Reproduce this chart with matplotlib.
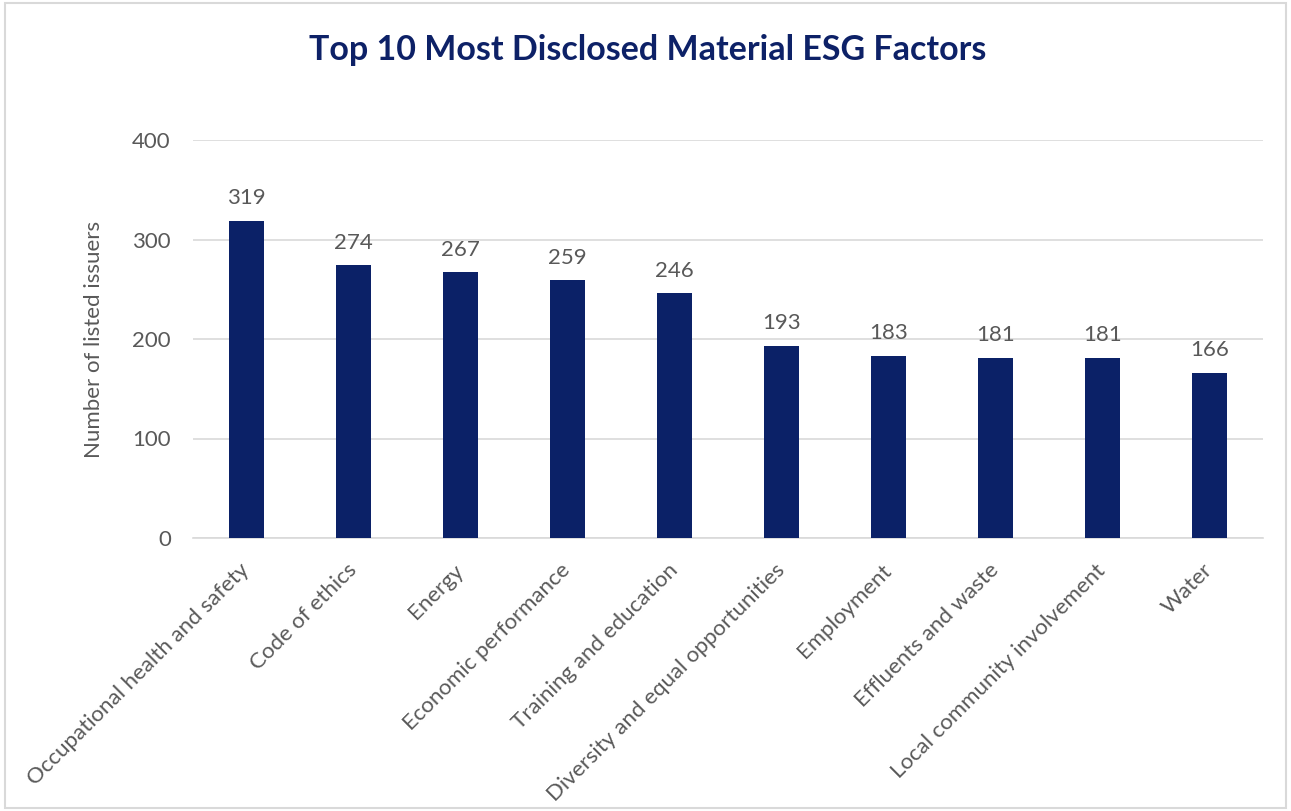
import matplotlib
matplotlib.use("Agg")
import matplotlib.pyplot as plt
from matplotlib.patches import Rectangle

categories = ["Occupational health and safety", "Code of ethics", "Energy",
              "Economic performance", "Training and education",
              "Diversity and equal opportunities", "Employment",
              "Effluents and waste", "Local community involvement", "Water"]
values = [319, 274, 267, 259, 246, 193, 183, 181, 181, 166]
yticks = [0, 100, 200, 300, 400]

plt.rcParams['font.family'] = ['Lato', 'DejaVu Sans']
txt = '#595959'
bar_color = '#0B2167'

fig = plt.figure(figsize=(12.91, 8.11), dpi=100)
ax = fig.add_axes([193/1291, 1-538/811, (1263-193)/1291, (538-140)/811])

x = list(range(len(categories)))
bars = ax.bar(x, values, width=0.32, color=bar_color, zorder=3)
for xi, v in zip(x, values):
    ax.annotate(str(v), (xi, v), xytext=(0, 9), textcoords='offset points',
                ha='center', va='bottom', fontsize=16, color=txt)

ax.set_xlim(-0.5, len(categories) - 0.5)
ax.set_ylim(0, 400)
ax.set_yticks(yticks)
ax.set_yticklabels([str(t) for t in yticks], fontsize=16, color=txt)
ax.yaxis.grid(True, color='#d9d9d9', linewidth=1.2, zorder=0)
ax.set_axisbelow(True)
for s in ['top', 'right', 'left']:
    ax.spines[s].set_visible(False)
ax.spines['bottom'].set_color('#d9d9d9')
ax.spines['bottom'].set_linewidth(1.2)
ax.tick_params(axis='y', length=0, pad=16)
ax.tick_params(axis='x', length=0, pad=21)
ax.set_xticks(x)
ax.set_xticklabels(categories, rotation=45, ha='right', va='center',
                   rotation_mode='anchor', fontsize=16, color=txt)
ax.set_ylabel("Number of listed issuers", fontsize=16, color=txt, labelpad=20)

fig.text(648/1291, 1-50/811, "Top 10 Most Disclosed Material ESG Factors",
         ha='center', va='center', fontsize=24.5, fontweight='bold', color='#0D2167')

fig.patches.append(Rectangle((5/1291, 3/811), 1281/1291, 805/811,
                             transform=fig.transFigure, fill=False,
                             edgecolor='#d9d9d9', linewidth=1.5))

fig.savefig("out.png", dpi=100)
